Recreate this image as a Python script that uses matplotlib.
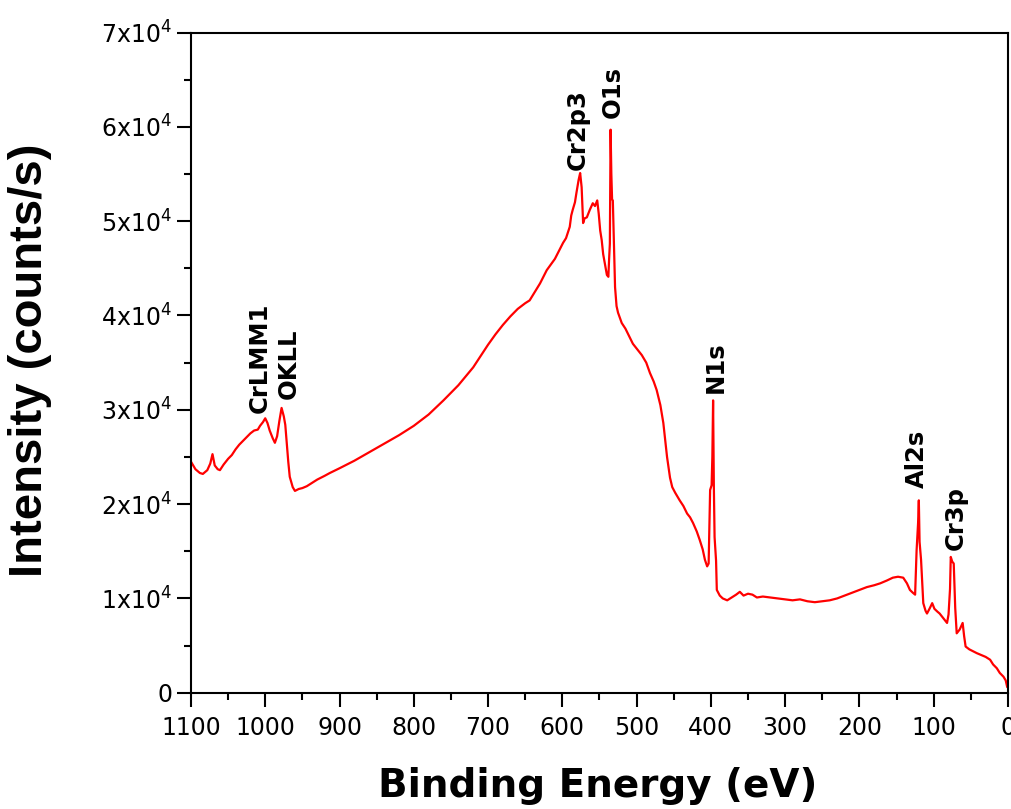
import matplotlib
matplotlib.use("Agg")
import matplotlib.pyplot as plt
from matplotlib.ticker import MultipleLocator, FuncFormatter

plt.rcParams['font.family'] = 'DejaVu Sans'
plt.rcParams['mathtext.fontset'] = 'dejavusans'

# XPS survey spectrum (binding energy in eV, counts/s)
energy = [1100, 1094, 1088, 1084, 1078, 1074, 1071, 1068, 1064, 1061, 1056, 1050,
          1045, 1040, 1035, 1030, 1025, 1020, 1015, 1010, 1007, 1003, 1000, 997,
          994, 990, 987, 984, 981, 978, 975, 973, 971, 969, 967, 963, 960, 955,
          950, 944, 938, 930, 920, 913, 900, 880, 860, 840, 820, 800, 780, 760,
          740, 720, 700, 690, 680, 670, 660, 650, 644, 630, 621, 610, 599, 595,
          590, 588, 586, 583, 581, 578, 576, 574, 572, 570, 567, 563, 559, 556,
          553, 551, 549, 547, 545, 543, 540, 538, 537, 536, 535, 534, 533, 532,
          530, 529, 527, 525, 520, 515, 510, 505, 500, 493, 487, 482, 477, 473,
          468, 464, 461, 459, 455, 452, 448, 442, 437, 432, 428, 424, 419, 415,
          411, 408, 405, 403, 401, 399, 398, 397, 396, 395, 393, 392, 388, 384,
          378, 372, 366, 361, 356, 350, 344, 338, 330, 320, 310, 300, 290, 280,
          270, 260, 250, 240, 230, 220, 210, 200, 190, 180, 172, 163, 155, 148,
          141, 136, 132, 128, 125, 123, 121, 120, 119, 117, 115, 114, 111, 109,
          105, 102, 99, 95, 92, 87, 82, 80, 78, 77, 75, 73, 71, 69, 65, 61, 59,
          57, 52, 47, 42, 36, 30, 24, 20, 15, 11, 6, 3, 1, 0]
intensity = [24500, 23700, 23300, 23200, 23600, 24300, 25300, 24100, 23700, 23600,
             24200, 24800, 25200, 25800, 26300, 26700, 27100, 27500, 27800, 27900,
             28300, 28700, 29100, 28600, 27800, 27000, 26500, 27200, 28800, 30200,
             29300, 28400, 26500, 24500, 22900, 21800, 21400, 21600, 21700, 21900,
             22200, 22600, 23000, 23300, 23800, 24600, 25500, 26400, 27300, 28300,
             29500, 31000, 32600, 34500, 36900, 38000, 39000, 39900, 40700, 41300,
             41600, 43400, 44800, 46000, 47700, 48200, 49400, 50600, 51200, 52000,
             53000, 54400, 55100, 53600, 49800, 50300, 50400, 51200, 51900, 51600,
             52200, 50800, 49000, 48000, 46500, 45600, 44300, 44100, 46000, 47600,
             59700, 55000, 52300, 52200, 46000, 43000, 41000, 40300, 39200, 38600,
             37800, 37000, 36500, 35800, 35000, 33900, 33000, 32100, 30500, 28600,
             26500, 25000, 22800, 21800, 21200, 20400, 19800, 19000, 18600, 18000,
             17100, 16200, 15200, 14100, 13400, 13700, 21500, 22000, 25000, 31000,
             22000, 16500, 14000, 10900, 10300, 10000, 9800, 10100, 10400, 10700,
             10300, 10500, 10400, 10100, 10200, 10100, 10000, 9900, 9800, 9900,
             9700, 9600, 9700, 9800, 10000, 10300, 10600, 10900, 11200, 11400,
             11600, 11900, 12200, 12300, 12200, 11600, 10900, 10600, 10400, 15100,
             18000, 20400, 16000, 14100, 11000, 9500, 8700, 8400, 9000, 9500,
             8900, 8600, 8400, 7900, 7400, 8300, 11000, 14400, 13900, 13700, 9000,
             6300, 6700, 7400, 6000, 4900, 4600, 4400, 4200, 4000, 3800, 3500,
             3000, 2600, 2100, 1700, 1300, 600, 600]

# peak labels: text, energy, intensity at the bottom of the label
peak_names = ['CrLMM1', 'OKLL', 'Cr2p3', 'O1s', 'N1s', 'Al2s', 'Cr3p']
peak_e = [1007, 968, 579, 532, 393, 122.5, 70]
peak_i = [29700, 31100, 55400, 60900, 31800, 21700, 15100]

fig = plt.figure(figsize=(10.12, 8.09), dpi=100)
ax = fig.add_axes([0.1887, 0.1437, 0.8073, 0.8161])

ax.plot(energy, intensity, color='#ff0000', lw=1.6)

for name, e, i in zip(peak_names, peak_e, peak_i):
    ax.text(e, i, name, rotation=90, ha='center', va='bottom',
            fontsize=17.5, fontweight='bold')

ax.set_xlim(1100, 0)
ax.set_ylim(0, 70000)
ax.xaxis.set_major_locator(MultipleLocator(100))
ax.xaxis.set_minor_locator(MultipleLocator(50))
ax.yaxis.set_major_locator(MultipleLocator(10000))
ax.yaxis.set_minor_locator(MultipleLocator(5000))


def sci(v, pos):
    k = int(round(v / 10000))
    return '0' if k == 0 else f'{k}x10$^{{4}}$'


ax.yaxis.set_major_formatter(FuncFormatter(sci))
ax.tick_params(which='both', direction='out', width=1.5, top=False, right=False)
ax.tick_params(which='major', length=10, labelsize=17)
ax.tick_params(which='minor', length=5)
ax.tick_params(axis='x', which='major', pad=7)
ax.tick_params(axis='y', which='major', pad=3.5)
for sp in ax.spines.values():
    sp.set_linewidth(1.5)

ax.set_xlabel('Binding Energy (eV)', fontsize=28, fontweight='bold', va='baseline')
ax.xaxis.set_label_coords(0.498, -0.158)
ax.set_ylabel('Intensity (counts/s)', fontsize=34, fontweight='bold',
              family='Liberation Sans', va='center', ha='center')
ax.yaxis.set_label_coords(-0.197, 0.503)

fig.savefig('out.png', dpi=100)
